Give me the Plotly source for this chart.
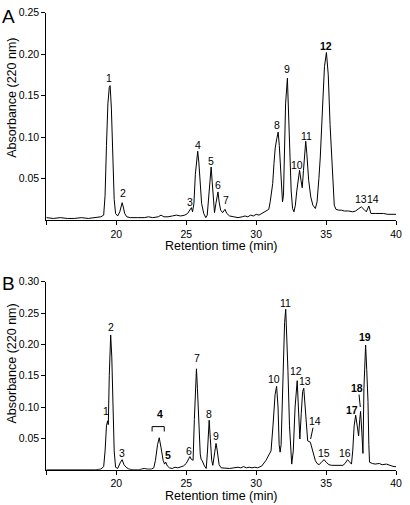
import plotly.graph_objects as go

# ---------------- data: panel A ----------------
time_a = [15.0, 15.5, 16.0, 16.5, 17.0, 17.5, 18.0, 18.5, 18.9, 19.1, 19.2, 19.3, 19.4, 19.5, 19.56,
          19.65, 19.75, 19.85, 19.95, 20.1, 20.25, 20.35, 20.42, 20.5, 20.6, 20.75, 21.0, 21.5, 22.0,
          22.3, 22.6, 23.0, 23.2, 23.4, 23.7, 24.0, 24.3, 24.6, 24.9, 25.1, 25.3, 25.37, 25.45, 25.55,
          25.65, 25.75, 25.82, 25.9, 26.0, 26.1, 26.25, 26.4, 26.5, 26.6, 26.7, 26.78, 26.86, 26.95,
          27.02, 27.12, 27.22, 27.27, 27.35, 27.46, 27.6, 27.77, 27.9, 28.1, 28.4, 28.7, 29.0, 29.2,
          29.4, 29.6, 29.8, 30.0, 30.2, 30.5, 30.7, 30.9, 31.0, 31.1, 31.18, 31.27, 31.36, 31.47, 31.57,
          31.65, 31.76, 31.88, 31.95, 32.0, 32.1, 32.23, 32.32, 32.42, 32.5, 32.6, 32.7, 32.8, 32.9,
          33.0, 33.1, 33.2, 33.29, 33.38, 33.47, 33.54, 33.62, 33.75, 33.9, 34.05, 34.23, 34.35, 34.48,
          34.58, 34.74, 34.88, 35.02, 35.15, 35.28, 35.44, 35.58, 35.7, 35.9, 36.1, 36.3, 36.6, 36.9,
          37.1, 37.3, 37.51, 37.7, 37.87, 38.05, 38.2, 38.5, 38.8, 39.1, 39.4, 39.7, 40.0]
abs_a = [0.003, 0.002, 0.003, 0.002, 0.002, 0.003, 0.002, 0.003, 0.004, 0.006, 0.030, 0.090, 0.140, 0.160, 0.162,
         0.135, 0.070, 0.025, 0.008, 0.005, 0.010, 0.019, 0.021, 0.016, 0.008, 0.004, 0.003, 0.003, 0.003,
         0.004, 0.003, 0.004, 0.006, 0.004, 0.004, 0.005, 0.006, 0.005, 0.006, 0.008, 0.014, 0.015, 0.010, 0.020,
         0.055, 0.078, 0.083, 0.070, 0.040, 0.020, 0.008, 0.003, 0.006, 0.030, 0.055, 0.064, 0.045, 0.015,
         0.009, 0.020, 0.032, 0.034, 0.022, 0.012, 0.009, 0.013, 0.008, 0.005, 0.004, 0.003, 0.004, 0.005,
         0.004, 0.006, 0.005, 0.007, 0.006, 0.009, 0.010, 0.013, 0.022, 0.035, 0.044, 0.068, 0.087, 0.098, 0.106,
         0.090, 0.056, 0.022, 0.030, 0.075, 0.140, 0.171, 0.135, 0.075, 0.035, 0.014, 0.010, 0.018, 0.035,
         0.052, 0.060, 0.048, 0.039, 0.060, 0.088, 0.095, 0.080, 0.048, 0.028, 0.018, 0.014, 0.022, 0.050,
         0.076, 0.135, 0.185, 0.202, 0.175, 0.115, 0.056, 0.018, 0.013, 0.012, 0.012, 0.011, 0.011, 0.010,
         0.011, 0.014, 0.016, 0.013, 0.010, 0.017, 0.008, 0.008, 0.008, 0.008, 0.007, 0.007, 0.007]

# ---------------- data: panel B ----------------
time_b = [15.0, 15.5, 16.0, 16.5, 17.0, 17.5, 18.0, 18.5, 18.9, 19.1, 19.2, 19.3, 19.38, 19.43, 19.5,
          19.6, 19.68, 19.75, 19.85, 19.95, 20.1, 20.3, 20.42, 20.55, 20.7, 20.9, 21.2, 21.6, 22.0, 22.2,
          22.5, 22.68, 22.8, 22.95, 23.07, 23.2, 23.35, 23.45, 23.54, 23.65, 23.8, 24.0, 24.2, 24.4, 24.6,
          24.8, 25.0, 25.15, 25.26, 25.35, 25.49, 25.58, 25.66, 25.73, 25.8, 25.9, 26.0, 26.06, 26.15,
          26.3, 26.43, 26.52, 26.6, 26.64, 26.72, 26.82, 26.9, 27.0, 27.13, 27.22, 27.35, 27.5, 27.8,
          28.1, 28.4, 28.7, 28.9, 29.1, 29.3, 29.5, 29.7, 29.9, 30.1, 30.4, 30.7, 30.9, 31.06, 31.2,
          31.35, 31.46, 31.56, 31.64, 31.71, 31.78, 31.92, 32.03, 32.11, 32.19, 32.27, 32.38, 32.46,
          32.54, 32.65, 32.78, 32.93, 33.02, 33.12, 33.22, 33.32, 33.40, 33.5, 33.6, 33.68, 33.87, 34.0,
          34.1, 34.22, 34.35, 34.5, 34.7, 34.86, 35.0, 35.2, 35.4, 35.7, 36.0, 36.2, 36.35, 36.53, 36.65,
          36.81, 36.9, 37.0, 37.11, 37.2, 37.32, 37.4, 37.46, 37.55, 37.63, 37.70, 37.76, 37.82, 37.9,
          37.99, 38.05, 38.1, 38.3, 38.5, 38.8, 39.0, 39.3, 39.5, 39.7, 39.85, 40.0]
abs_b = [0.000, 0.000, -0.001, 0.000, -0.001, 0.000, 0.000, 0.000, 0.001, 0.005, 0.030, 0.070, 0.078, 0.072, 0.150,
         0.215, 0.180, 0.100, 0.030, 0.004, 0.002, 0.012, 0.016, 0.008, 0.004, 0.001, 0.000, 0.000, 0.002, 0.001,
         0.001, 0.003, 0.015, 0.040, 0.051, 0.035, 0.015, 0.009, 0.012, 0.006, 0.003, 0.002, 0.004, 0.003, 0.004,
         0.006, 0.010, 0.018, 0.021, 0.017, 0.015, 0.080, 0.140, 0.161, 0.130, 0.060, 0.025, 0.017, 0.014,
         0.006, 0.002, 0.030, 0.070, 0.079, 0.050, 0.015, 0.007, 0.025, 0.042, 0.030, 0.008, 0.003, 0.002,
         0.002, 0.003, 0.004, 0.003, 0.005, 0.003, 0.004, 0.003, 0.004, 0.003, 0.006, 0.015, 0.024, 0.030, 0.070,
         0.120, 0.133, 0.100, 0.040, 0.028, 0.040, 0.157, 0.235, 0.256, 0.215, 0.157, 0.070, 0.025,
         0.009, 0.030, 0.100, 0.142, 0.100, 0.049, 0.090, 0.125, 0.130, 0.100, 0.060, 0.046, 0.044, 0.033,
         0.022, 0.015, 0.010, 0.008, 0.013, 0.016, 0.012, 0.008, 0.007, 0.007, 0.007, 0.007, 0.010, 0.016, 0.013,
         0.009, 0.030, 0.070, 0.087, 0.070, 0.054, 0.080, 0.093, 0.060, 0.026, 0.130, 0.185, 0.199, 0.160,
         0.109, 0.040, 0.012, 0.010, 0.009, 0.010, 0.008, 0.009, 0.007, 0.006, 0.005, 0.005]

# peak labels: (text, time, absorbance, bold)
labels_a = [("1", 19.51, 0.171, False), ("2", 20.49, 0.033, False), ("3", 25.28, 0.022, False),
            ("4", 25.82, 0.091, False), ("5", 26.78, 0.071, False), ("6", 27.27, 0.042, False),
            ("7", 27.82, 0.024, False), ("8", 31.46, 0.115, False), ("9", 32.23, 0.182, False),
            ("10", 32.94, 0.067, False), ("11", 33.59, 0.101, False), ("12", 35.0, 0.210, True),
            ("13", 37.51, 0.026, False), ("14", 38.33, 0.026, False)]
labels_b = [("1", 19.25, 0.094, False), ("2", 19.63, 0.228, False), ("3", 20.44, 0.026, False),
            ("4", 23.15, 0.089, True), ("5", 23.73, 0.024, True), ("6", 25.19, 0.030, False),
            ("7", 25.77, 0.178, False), ("8", 26.62, 0.089, False), ("9", 27.13, 0.054, False),
            ("10", 31.29, 0.145, False), ("11", 32.11, 0.266, False), ("12", 32.82, 0.157, False),
            ("13", 33.52, 0.141, False), ("14", 34.23, 0.077, False), ("15", 34.88, 0.026, False),
            ("16", 36.34, 0.026, False), ("17", 36.85, 0.096, True), ("18", 37.18, 0.130, True),
            ("19", 37.80, 0.211, True)]

x_ticks = [15, 20, 25, 30, 35, 40]
x_ticktext = ["", "20", "25", "30", "35", "40"]
ya_ticks = [0.05, 0.10, 0.15, 0.20, 0.25]
yb_ticks = [0.05, 0.10, 0.15, 0.20, 0.25, 0.30]

FONT = "Liberation Sans, Arial, sans-serif"
W, H = 410, 505

fig = go.Figure()
fig.add_trace(go.Scatter(x=time_a, y=abs_a, mode="lines", line=dict(color="black", width=1),
                         xaxis="x", yaxis="y", showlegend=False, hoverinfo="skip"))
fig.add_trace(go.Scatter(x=time_b, y=abs_b, mode="lines", line=dict(color="black", width=1),
                         xaxis="x2", yaxis="y2", showlegend=False, hoverinfo="skip"))

def px_x(p):
    return p / W

def px_y(p):
    return 1 - p / H

axis_common = dict(showline=True, linecolor="black", linewidth=1, ticks="outside", ticklen=4,
                   tickcolor="black", showgrid=False, zeroline=False,
                   tickfont=dict(family=FONT, size=10.5, color="black"))

fig.update_layout(
    width=W, height=H, margin=dict(l=0, r=0, t=0, b=0),
    paper_bgcolor="white", plot_bgcolor="white",
    font=dict(family=FONT, color="black"),
    xaxis=dict(domain=[px_x(47), px_x(402)], range=[15, 40], tickvals=x_ticks, ticktext=x_ticktext,
               anchor="y", **axis_common),
    yaxis=dict(domain=[px_y(216.7), px_y(6.7)], range=[0, 0.25], tickvals=ya_ticks,
               tickformat=".2f", anchor="x", **axis_common),
    xaxis2=dict(domain=[px_x(47), px_x(402)], range=[15, 40], tickvals=x_ticks, ticktext=x_ticktext,
                anchor="y2", **axis_common),
    yaxis2=dict(domain=[px_y(469.3), px_y(279)], range=[0, 0.30], tickvals=yb_ticks,
                tickformat=".2f", anchor="x2", **axis_common),
)

ann = []
for txt, t, v, b in labels_a:
    ann.append(dict(x=t, y=v, xref="x", yref="y", text=f"<b>{txt}</b>" if b else txt, showarrow=False,
                    font=dict(family=FONT, size=10.5, color="black"), xanchor="center", yanchor="middle"))
for txt, t, v, b in labels_b:
    ann.append(dict(x=t, y=v, xref="x2", yref="y2", text=f"<b>{txt}</b>" if b else txt, showarrow=False,
                    font=dict(family=FONT, size=10.5, color="black"), xanchor="center", yanchor="middle"))

# panel letters & axis titles
def paper_text(text, px, py, size, angle=0):
    return dict(x=px_x(px), y=px_y(py), xref="paper", yref="paper", text=text, showarrow=False,
                textangle=angle, xanchor="center", yanchor="middle",
                font=dict(family=FONT, size=size, color="black"))

ann.append(paper_text("A", 9, 11, 19))
ann.append(paper_text("B", 9, 281, 19))
for cy in (93, 362):
    ann.append(paper_text("Absorbance (220 nm)", 12, cy, 12.5, -90))
for cy in (243, 496):
    ann.append(paper_text("Retention time (min)", 225, cy, 12.5))
fig.update_layout(annotations=ann)

# bracket for peak 4 and leader lines (panel B)
shapes = [
    dict(type="path", xref="x2", yref="y2", path="M 22.56 0.061 L 22.56 0.0688 L 23.43 0.0688 L 23.43 0.061",
         line=dict(color="black", width=1)),
    dict(type="line", xref="x2", yref="y2", x0=34.06, y0=0.067, x1=33.89, y1=0.049,
         line=dict(color="black", width=1)),
    dict(type="line", xref="x2", yref="y2", x0=37.35, y0=0.120, x1=37.44, y1=0.100,
         line=dict(color="black", width=1)),
]
fig.update_layout(shapes=shapes)

fig.write_html("out.html", config={"displayModeBar": False},
               post_script="document.body.style.margin='0';document.body.style.overflow='hidden';")
